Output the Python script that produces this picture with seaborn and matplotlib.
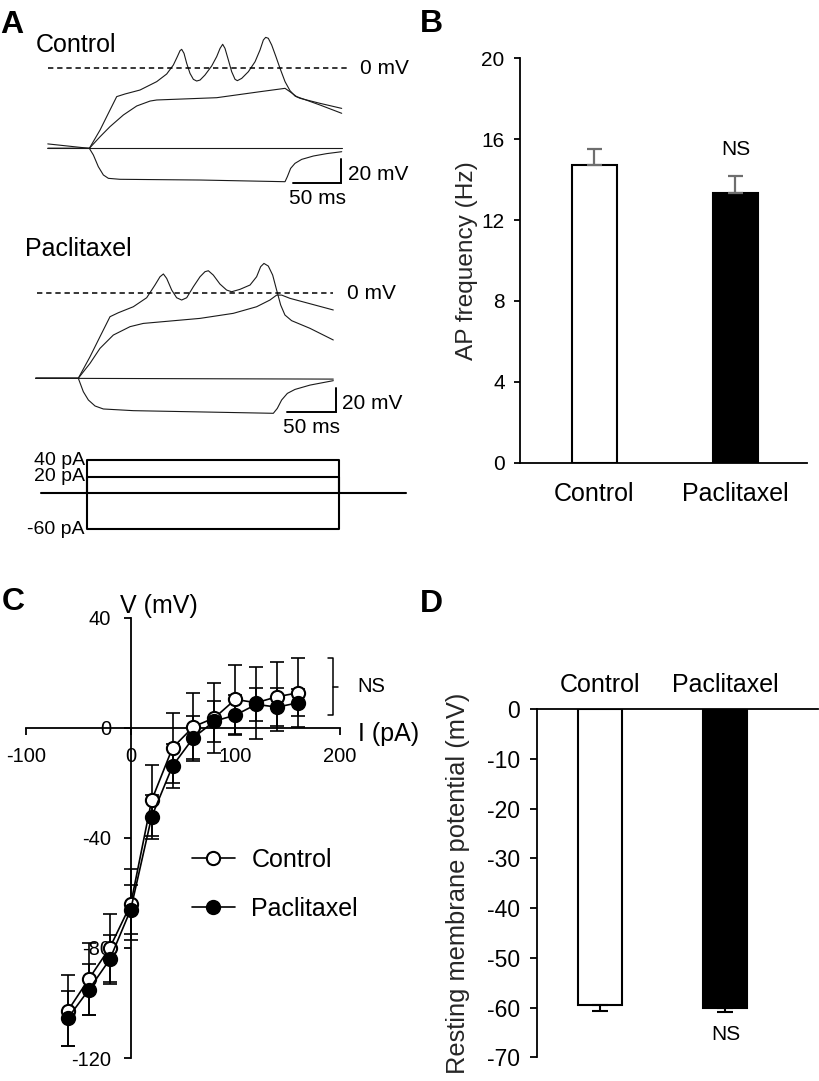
import numpy as np
import matplotlib
matplotlib.use("Agg")
import matplotlib.pyplot as plt
import seaborn as sns

W, H = 819, 1081

# ---------------- panel A: example traces (ms, mV)
ctrl_spike_t = [-43, 0, 11.1, 21.4, 28.3, 36.9, 52.4, 69.7, 80, 86.9, 91.0, 93.8, 95.5, 97.9,
                100.7, 104.1, 107.6, 111, 114.5, 119.6, 126.5, 131.7, 135.2, 137.9, 140.3,
                143.8, 147.2, 150.7, 153.1, 157.6, 164.5, 171.4, 176.5, 180, 182.4, 185.1,
                188.6, 193, 197.2, 202.4, 207.5, 212.7, 217.9, 238.6, 261]
ctrl_spike_v = [-63, -66.7, -51.4, -34.7, -23.6, -21.4, -18.1, -11.1, -4.75, 2.75, 9.7, 14.7,
                15.8, 12.5, 4.1, -4.2, -9.2, -10.6, -9.8, -5.6, 1.9, 9.7, 16.6, 20, 16.6, 6.9,
                -2.8, -9.2, -10.3, -8.4, -2.8, 5.5, 15.2, 23.6, 25.8, 25, 19.4, 9.7, 0,
                -11.1, -18.6, -23.1, -25, -29.2, -33.4]
ctrl_sub_t = [-43, 0, 11.1, 21.4, 35.2, 49, 62.8, 69.7, 131.7, 176.5, 202.4, 207.5, 214.4,
              238.6, 261]
ctrl_sub_v = [-66.7, -66.7, -57, -48.6, -38.9, -31.4, -27.3, -26.4, -24.5, -19.5, -16.7,
              -19.5, -23.6, -30.6, -37.5]
ctrl_zero_t = [-43, 261]
ctrl_zero_v = [-66.7, -66.7]
ctrl_hyp_t = [-43, 0, 4.2, 9.3, 14.5, 19.7, 31.7, 114.5, 202.4, 204.8, 208.2, 212.7, 219.6,
              231.7, 245.5, 261]
ctrl_hyp_v = [-66.7, -66.7, -72.3, -82, -88.9, -91.7, -92.5, -93.1, -94.5, -90.3, -83.4,
              -79.2, -75.9, -73.1, -71.1, -69.5]

pac_spike_t = [-44, 0, 12.1, 22.4, 32.8, 41.4, 56.9, 70.7, 79.3, 84.5, 88, 91.4, 96.6, 101.7,
               106.9, 112.1, 119, 125.9, 131, 134.5, 139.6, 146.5, 153.4, 158.6, 167.2,
               177.6, 184.4, 188.6, 192, 196.5, 201, 205.1, 209.3, 213.7, 220.6, 239.6, 263.7]
pac_spike_v = [-70.8, -70.8, -52.9, -36.2, -19.5, -16.2, -11.2, -3.7, 6.9, 13.8, 16.1, 12.4,
               2.7, -3.7, -5.6, -3.7, 5.5, 13.8, 18, 18.8, 15.2, 7.7, 2.7, 1.3, 3.3, 6.9,
               13.8, 22.2, 24.9, 22.7, 15.2, 2.7, -9.8, -18.1, -22.8, -29.2, -38.9]
pac_sub_t = [-44, 0, 12.1, 22.4, 36.2, 53.5, 67.2, 125.9, 160.3, 184.4, 198.2, 205.1, 210.3,
             218.9, 263.7]
pac_sub_v = [-70.8, -70.8, -58.4, -45.9, -34.8, -27.8, -25.1, -20.9, -16.7, -11.2, -5.6,
             -1.5, -1.5, -4.2, -13.9]
pac_zero_t = [-44, 263.7]
pac_zero_v = [-70.8, -71.5]
pac_hyp_t = [-44, 0, 5.2, 10.4, 17.3, 25.9, 56.9, 201.7, 205.8, 210.3, 216.2, 224.1, 239.6,
             263.7]
pac_hyp_v = [-70.8, -70.8, -82, -88.9, -93.9, -96.4, -97.8, -100, -95.9, -88.9, -83.4, -80.1,
             -76.5, -72.8]

# current step protocol (pA)
step_amps = [40, 20, -60]
step_labels = ["40 pA", "20 pA", "-60 pA"]
step_on, step_off = 0, 200

# ---------------- panel B
groups = ["Control", "Paclitaxel"]
ap_freq = [14.7, 13.35]
ap_sem = [0.83, 0.84]

# ---------------- panel C: I-V relation
current = [-60, -40, -20, 0, 20, 40, 60, 80, 100, 120, 140, 160]
ctrl_v = [-102.8, -91.3, -80.0, -64.2, -26.4, -7.3, 0.4, 3.6, 10.3, 9.1, 11.3, 12.7]
ctrl_sem = [12.8, 13.0, 12.5, 13.0, 13.0, 12.8, 12.3, 12.8, 12.4, 13.0, 12.6, 12.5]
pac_v = [-105.5, -95.2, -84.2, -66.1, -32.4, -13.9, -3.6, 2.4, 4.6, 8.5, 7.5, 9.1]
pac_sem = [10.0, 9.3, 8.8, 9.0, 8.0, 8.0, 7.8, 7.5, 7.3, 6.0, 7.0, 5.0]

# ---------------- panel D
rmp = [-59.5, -60.0]
rmp_sem = [1.1, 0.8]


def box(l, t, r, b):
    return [l / W, 1 - b / H, (r - l) / W, (b - t) / H]


def fpos(x, y):
    return x / W, 1 - y / H


sns.set_style("ticks")
plt.rcParams["font.family"] = ["Liberation Sans", "DejaVu Sans"]
plt.rcParams["axes.unicode_minus"] = False
plt.rcParams["axes.linewidth"] = 1.3
plt.rcParams["xtick.major.width"] = 1.3
plt.rcParams["ytick.major.width"] = 1.3
plt.rcParams["xtick.color"] = "black"
plt.rcParams["ytick.color"] = "black"
plt.rcParams["axes.edgecolor"] = "black"
plt.rcParams["text.color"] = "black"

fig = plt.figure(figsize=(W / 100, H / 100), dpi=100)

# ======================= A =======================
def trace_panel(rect, traces, label, label_tv, dash_end, bar_t, bar_v):
    ax = fig.add_axes(rect)
    for t, v in traces:
        ax.plot(t, v, color="#1a1a1a", lw=0.8)
    ax.plot([-43, dash_end], [0, 0], color="black", lw=1.1, ls=(0, (3.5, 2.5)))
    ax.text(dash_end + 14, 0, "0 mV", va="center", ha="left", fontsize=15)
    ax.plot([bar_t, bar_t + 50, bar_t + 50], [bar_v, bar_v, bar_v + 20],
            color="black", lw=1.4, solid_joinstyle="miter")
    ax.text(bar_t + 57, bar_v + 3, "20 mV", va="baseline", ha="left", fontsize=15)
    ax.text(bar_t + 25, bar_v - 17.5, "50 ms", va="baseline", ha="center", fontsize=15)
    ax.text(label_tv[0], label_tv[1], label, va="baseline", ha="left", fontsize=18)
    ax.set_xlim(-50, 330)
    ax.set_ylim(-120, 40)
    ax.axis("off")
    return ax


trace_panel(box(41, 20.3, 408.4, 212.3),
            [(ctrl_spike_t, ctrl_spike_v), (ctrl_sub_t, ctrl_sub_v),
             (ctrl_zero_t, ctrl_zero_v), (ctrl_hyp_t, ctrl_hyp_v)],
            "Control", (-55, 13.8), 266, 210.5, -95.8)
trace_panel(box(29.95, 245.3, 397.4, 437.3),
            [(pac_spike_t, pac_spike_v), (pac_sub_t, pac_sub_v),
             (pac_zero_t, pac_zero_v), (pac_hyp_t, pac_hyp_v)],
            "Paclitaxel", (-55, 31.1), 263.7, 216, -99.2)

# current steps
axS = fig.add_axes(box(36.2, 451.8, 415.1, 535.1))
axS.set_yscale("function", functions=(lambda v: np.where(v >= 0, v, 0.72 * v),
                                      lambda v: np.where(v >= 0, v, v / 0.72)))
axS.plot([-36, 253], [0, 0], color="black", lw=1.5)
for amp, lab in zip(step_amps, step_labels):
    axS.plot([step_on, step_on, step_off, step_off], [0, amp, amp, 0], color="black", lw=1.5)
    axS.text(-1.5, amp, lab, ha="right", va="center", fontsize=14)
axS.set_xlim(-40, 260)
axS.set_ylim(-70, 50)
axS.axis("off")

# ======================= B =======================
axB = fig.add_axes(box(520, 58.3, 806.7, 462.7))
sns.barplot(x=groups, y=ap_freq, hue=groups, palette=["white", "black"], edgecolor="black",
            linewidth=1.5, width=0.32, legend=False, errorbar=None, ax=axB)
axB.errorbar([0, 1], ap_freq, yerr=[[0, 0], ap_sem], fmt="none", ecolor="#6e6e6e",
             elinewidth=1.6, capsize=5.4, capthick=1.6, zorder=1)
axB.set_xlim(-0.525, 1.504)
axB.set_ylim(0, 20)
axB.set_yticks([0, 4, 8, 12, 16, 20])
sns.despine(ax=axB)
axB.tick_params(axis="x", length=0, pad=14, labelsize=18)
axB.tick_params(axis="y", length=4, pad=7, labelsize=15)
axB.set_xlabel("")
axB.set_ylabel("AP frequency (Hz)", fontsize=17.6)
axB.yaxis.set_label_coords(-0.1465, 0.5)
axB.text(1, ap_freq[1] + ap_sem[1] + 1.3, "NS", ha="center", va="center", fontsize=15)

# ======================= C =======================
axC = fig.add_axes(box(26, 617.7, 340, 1058))
axC.errorbar(current, ctrl_v, yerr=ctrl_sem, fmt="none", ecolor="black", elinewidth=1.2,
             capsize=4.8, capthick=1.2, zorder=2)
axC.errorbar(current, pac_v, yerr=pac_sem, fmt="none", ecolor="black", elinewidth=1.2,
             capsize=4.8, capthick=1.2, zorder=2)
sns.lineplot(x=current, y=ctrl_v, color="black", lw=1.2, marker="o", markersize=9.5,
             markerfacecolor="white", markeredgecolor="black", markeredgewidth=1.5,
             errorbar=None, label="Control", ax=axC, zorder=3)
sns.lineplot(x=current, y=pac_v, color="black", lw=1.2, marker="o", markersize=9.5,
             markerfacecolor="black", markeredgecolor="black", markeredgewidth=1.5,
             errorbar=None, label="Paclitaxel", ax=axC, zorder=4)
axC.set_xlim(-100, 200)
axC.set_ylim(-120, 40)
axC.spines["left"].set_position(("data", 0))
axC.spines["bottom"].set_position(("data", 0))
axC.spines["top"].set_visible(False)
axC.spines["right"].set_visible(False)
axC.set_xticks([-100, 0, 100, 200])
axC.set_yticks([-120, -80, -40, 0, 40])
axC.tick_params(axis="both", direction="out", length=5, pad=9, labelsize=14.5)
axC.set_xlabel("")
axC.set_ylabel("")
axC.text(-10.2, 41.8, "V (mV)", ha="left", va="baseline", fontsize=18, clip_on=False)
axC.text(217, -4.8, "I (pA)", ha="left", va="baseline", fontsize=18, clip_on=False)
# NS bracket
axC.plot([188.7, 193.5, 193.5, 188.7], [25.2, 25.2, 4.8, 4.8], color="black", lw=1.1,
         clip_on=False)
axC.plot([193.5, 198.3], [14.8, 14.8], color="black", lw=1.1, clip_on=False)
axC.text(230, 15, "NS", ha="center", va="center", fontsize=14.5, clip_on=False)
lx, ly = fpos(191.7, 884.7)
axC.legend(loc="center left", bbox_to_anchor=(lx, ly), bbox_transform=fig.transFigure,
           frameon=False, fontsize=18, handlelength=1.72, handletextpad=0.67,
           labelspacing=1.0, borderpad=0, borderaxespad=0)

# ======================= D =======================
axD = fig.add_axes(box(536.7, 709.3, 818, 1057.3))
sns.barplot(x=groups, y=rmp, hue=groups, palette=["white", "black"], edgecolor="black",
            linewidth=1.5, width=0.35, legend=False, errorbar=None, ax=axD)
axD.errorbar([0, 1], rmp, yerr=[rmp_sem, [0, 0]], fmt="none", ecolor="black",
             elinewidth=1.5, capsize=6.1, capthick=1.5, zorder=1)
axD.set_xlim(-0.502, 1.736)
axD.set_ylim(-70, 0)
axD.set_yticks(np.arange(-70, 1, 10))
axD.spines["bottom"].set_visible(False)
axD.spines["right"].set_visible(False)
axD.spines["top"].set_visible(True)
axD.xaxis.tick_top()
axD.tick_params(axis="x", length=0, pad=9, labelsize=18)
axD.tick_params(axis="y", length=5, pad=7, labelsize=16.5)
axD.set_xlabel("")
axD.set_ylabel("Resting membrane potential (mV)", fontsize=18.4)
axD.yaxis.set_label_coords(-0.237, 0.5)
axD.text(1, rmp[1] - rmp_sem[1] - 4.6, "NS", ha="center", va="center", fontsize=15)

# panel letters
for letter, (x, y) in zip("ABCD", [(0, 33.3), (420, 31.7), (2, 610), (420, 611.7)]):
    fx, fy = fpos(x, y)
    fig.text(fx, fy, letter, fontsize=23, fontweight="bold", ha="left", va="baseline")

fig.savefig("out.png", dpi=100)
